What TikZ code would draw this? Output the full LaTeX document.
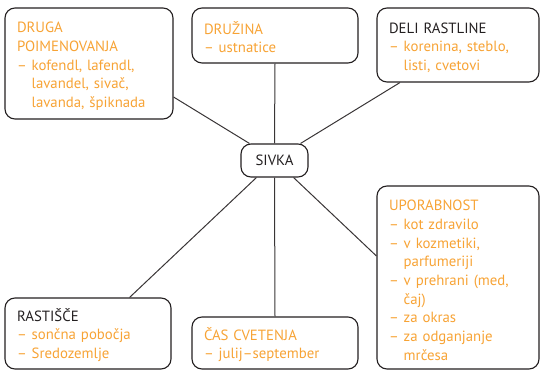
\documentclass[tikz,border=0pt]{standalone}
\usepackage{fontspec}
\setmainfont{PT Sans}
\usepackage{tikz}
\usetikzlibrary{shapes}
\definecolor{textorange}{RGB}{247,163,53}
\definecolor{textgrey}{RGB}{35,31,32}
\tikzstyle{conceptbox}=[draw=textgrey,line width=1.1pt,rounded corners=10pt,align=left,inner xsep=12pt,inner ysep=0pt,text=textorange,font=\fontsize{14.8}{18.7}\selectfont,execute at begin node={\rule{0pt}{16pt}}]
\tikzstyle{conceptcentre}=[draw=textgrey,line width=1.1pt,rounded corners=10pt,minimum width=67pt,minimum height=33pt,text=textgrey,font=\fontsize{14.8}{18.7}\selectfont]
\tikzstyle{conceptline}=[draw=textgrey!90,line width=1pt]
\newcommand{\itemcont}{\hphantom{– }}
\newcommand{\blacktitle}[1]{\textcolor{textgrey}{#1}}

\begin{document}
\begin{tikzpicture}[x=1pt,y=-1pt]
\useasboundingbox (0,0) rectangle (541,371);

\node[conceptcentre] (SIV) at (274.5,160.5) {SIVKA};

\node[conceptbox,text width=144pt,minimum height=111pt] (DRU) at (89,63.5) {DRUGA\\POIMENOVANJA\\– kofendl, lafendl,\\\itemcont lavandel, sivač,\\\itemcont lavanda, špiknada};
\node[conceptbox,text width=142pt,minimum height=55pt] (DRZ) at (275,35.5) {DRUŽINA\\– ustnatice};
\node[conceptbox,text width=138pt,minimum height=74pt] (DEL) at (458,45) {\blacktitle{DELI RASTLINE}\\– korenina, steblo,\\\itemcont listi, cvetovi};
\node[conceptbox,text width=138pt,minimum height=183pt] (UPO) at (458,277.5) {UPORABNOST\\– kot zdravilo\\– v kozmetiki,\\\itemcont parfumeriji\\– v prehrani (med,\\\itemcont čaj)\\– za okras\\– za odganjanje\\\itemcont mrčesa};
\node[conceptbox,text width=142pt,minimum height=71pt] (RAS) at (88,333.5) {\blacktitle{RASTIŠČE}\\– sončna pobočja\\– Sredozemlje};
\node[conceptbox,text width=142pt,minimum height=52pt] (CAS) at (275,343) {ČAS CVETENJA\\– julij–september};

\draw[conceptline] ([yshift=-33.5pt]DRU.east) -- ([xshift=9pt]SIV.north west);
\draw[conceptline] (DRZ.south) -- (SIV.north);
\draw[conceptline] ([xshift=-58pt]DEL.south) -- ([xshift=-8pt]SIV.north east);
\draw[conceptline] ([xshift=16pt]SIV.south west) -- ([xshift=-42pt]RAS.north east);
\draw[conceptline] (SIV.south) -- (CAS.north);
\draw[conceptline] ([xshift=-15pt]SIV.south east) -- ([yshift=21.5pt]UPO.west);

\end{tikzpicture}
\end{document}
